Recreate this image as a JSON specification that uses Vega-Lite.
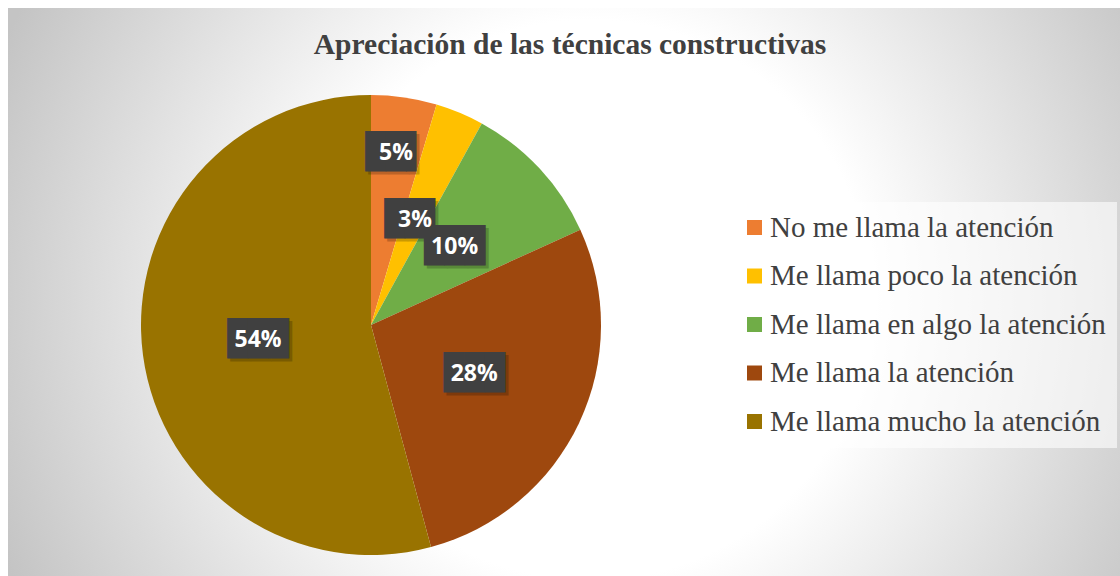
{
  "$schema": "https://vega.github.io/schema/vega-lite/v6.json",
  "padding": {"left": 8, "top": 8, "right": 0, "bottom": -66},
  "autosize": {"type": "pad"},
  "background": "#ffffff",
  "title": {
    "text": "Apreciación de las técnicas constructivas",
    "font": "Liberation Serif",
    "fontSize": 29.5,
    "fontWeight": "bold",
    "color": "#404040",
    "anchor": "middle",
    "frame": "bounds",
    "offset": -52,
    "dx": 6
  },
  "data": {
    "values": [
      {"categoria": "No me llama la atención", "pct": 0.046, "orden": 1},
      {"categoria": "Me llama poco la atención", "pct": 0.034, "orden": 2},
      {"categoria": "Me llama en algo la atención", "pct": 0.102, "orden": 3},
      {"categoria": "Me llama la atención", "pct": 0.276, "orden": 4},
      {"categoria": "Me llama mucho la atención", "pct": 0.542, "orden": 5}
    ]
  },
  "spacing": 0,
  "bounds": "flush",
  "resolve": {"scale": {"color": "shared"}, "legend": {"color": "shared"}},
  "hconcat": [
    {
      "width": 726,
      "height": 634,
      "view": {
        "stroke": null,
        "fill": {
          "gradient": "radial",
          "x1": 0.8017, "y1": 0.4656, "r1": 0,
          "x2": 0.8017, "y2": 0.4656, "r2": 0.8815,
          "stops": [
            {"offset": 0, "color": "#ffffff"},
            {"offset": 0.4375, "color": "#ffffff"},
            {"offset": 1, "color": "#c4c4c4"}
          ]
        }
      },
      "encoding": {
        "theta": {"field": "pct", "type": "quantitative", "stack": true},
        "order": {"field": "orden", "type": "quantitative", "sort": "ascending"}
      },
      "layer": [
        {
          "mark": {"type": "arc", "radius": 230, "stroke": null},
          "encoding": {
            "color": {
              "field": "categoria",
              "type": "nominal",
              "scale": {
                "domain": ["No me llama la atención", "Me llama poco la atención", "Me llama en algo la atención", "Me llama la atención", "Me llama mucho la atención"],
                "range": ["#ED7D31", "#FFC000", "#70AD47", "#9E480E", "#997300"]
              },
              "legend": {
                "orient": "none",
                "legendX": 721,
                "legendY": 194,
                "title": null,
                "symbolType": "square",
                "symbolSize": 225,
                "symbolStrokeWidth": 0,
                "labelFont": "Liberation Serif",
                "labelFontSize": 29,
                "labelColor": "#404040",
                "labelLimit": 500,
                "labelOffset": 1,
                "rowPadding": 18.5,
                "padding": 11,
                "fillColor": "rgba(255,255,255,0.6)"
              }
            }
          }
        },
        {
          "mark": {"type": "text", "radius": 174, "font": "DejaVu Sans Mono", "fontSize": 34, "color": "#000000", "opacity": 0.2, "dx": 3, "dy": 3, "align": "center", "baseline": "middle"},
          "encoding": {"text": {"condition": {"test": "datum.orden === 1", "value": "██▌"}, "value": ""}}
        },
        {
          "mark": {"type": "text", "radius": 114, "font": "DejaVu Sans Mono", "fontSize": 34, "color": "#000000", "opacity": 0.2, "dx": 3, "dy": 3, "align": "center", "baseline": "middle"},
          "encoding": {"text": {"condition": [{"test": "datum.orden === 1", "value": ""}, {"test": "datum.orden === 2", "value": "██▌"}], "value": "███"}}
        },
        {
          "mark": {"type": "text", "radius": 174, "font": "DejaVu Sans Mono", "fontSize": 34, "color": "#404040", "align": "center", "baseline": "middle"},
          "encoding": {"text": {"condition": {"test": "datum.orden === 1", "value": "██▌"}, "value": ""}}
        },
        {
          "mark": {"type": "text", "radius": 114, "font": "DejaVu Sans Mono", "fontSize": 34, "color": "#404040", "align": "center", "baseline": "middle"},
          "encoding": {"text": {"condition": [{"test": "datum.orden === 1", "value": ""}, {"test": "datum.orden === 2", "value": "██▌"}], "value": "███"}}
        },
        {
          "mark": {"type": "text", "radius": 174, "font": "Open Sans", "fontSize": 23, "fontWeight": "bold", "color": "#ffffff", "align": "center", "baseline": "middle"},
          "encoding": {"text": {"condition": {"test": "datum.orden === 1", "field": "pct", "type": "quantitative", "format": ".0%"}, "value": ""}}
        },
        {
          "mark": {"type": "text", "radius": 114, "font": "Open Sans", "fontSize": 23, "fontWeight": "bold", "color": "#ffffff", "align": "center", "baseline": "middle"},
          "encoding": {"text": {"condition": {"test": "datum.orden !== 1", "field": "pct", "type": "quantitative", "format": ".0%"}, "value": ""}}
        }
      ]
    },
    {
      "width": 386,
      "height": 634,
      "view": {
        "stroke": null,
        "fill": {
          "gradient": "radial",
          "x1": -0.0315, "y1": 0.4606, "r1": 0,
          "x2": -0.0315, "y2": 0.4606, "r2": 1.0095,
          "stops": [
            {"offset": 0, "color": "#ffffff"},
            {"offset": 0.4375, "color": "#ffffff"},
            {"offset": 1, "color": "#c4c4c4"}
          ]
        }
      },
      "mark": {"type": "rect", "opacity": 0},
      "encoding": {}
    }
  ],
  "config": {
    "font": "Liberation Serif",
    "view": {"stroke": null},
    "legend": {
      "labelFont": "Liberation Serif",
      "labelFontSize": 29,
      "labelColor": "#404040",
      "labelOffset": 1,
      "labelLimit": 500
    }
  }
}
